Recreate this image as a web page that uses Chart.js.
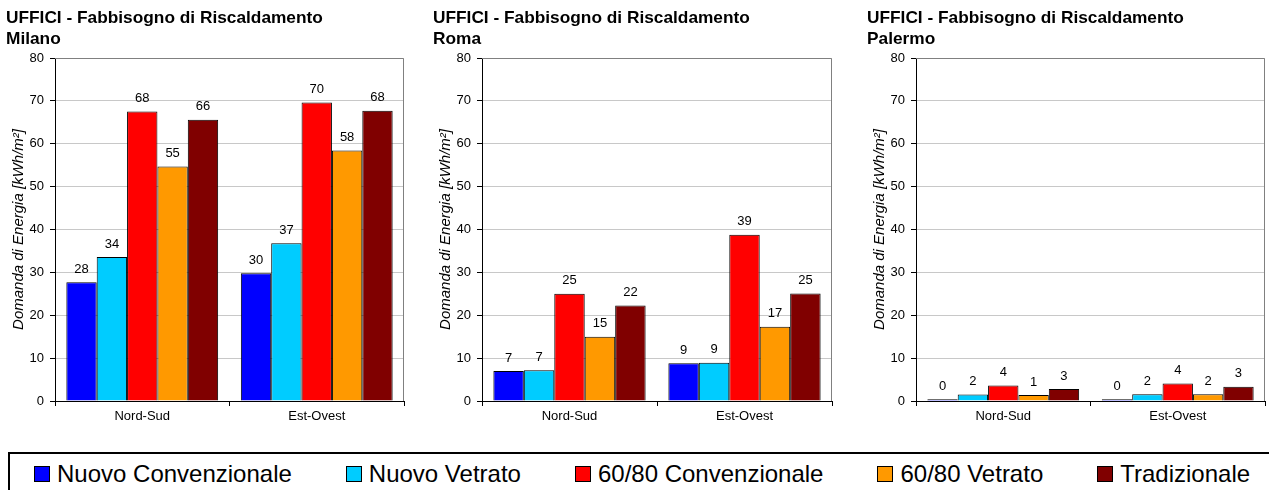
<!DOCTYPE html>
<html>
<head>
<meta charset="utf-8">
<script src="https://cdn.jsdelivr.net/npm/chart.js@4"></script>
<style>
  body { margin:0; background:#fff; width:1269px; height:490px; overflow:hidden; position:relative; font-family:'Liberation Sans', Arial, sans-serif; }
  canvas { position:absolute; top:0; }
  #legend { position:absolute; left:8px; top:452px; width:1300px; height:60px; box-sizing:border-box;
            border-top:2px solid #000; border-left:2px solid #000; padding-left:24px; padding-top:6px;
            display:flex; align-items:flex-start; white-space:nowrap; font-size:24px; line-height:28px; color:#000; }
  .item { display:flex; align-items:center; height:28px; margin-right:54px; }
  .box { width:14px; height:14px; border:1px solid #000; margin-right:7px; }
</style>
</head>
<body>
<canvas id="milano" width="420" height="440" style="left:0px"></canvas>
<canvas id="roma" width="430" height="440" style="left:420px"></canvas>
<canvas id="palermo" width="419" height="440" style="left:850px"></canvas>
<div id="legend"></div>
<script>
// categorie e serie
const categories = ['Nord-Sud', 'Est-Ovest'];
const seriesNames = ['Nuovo Convenzionale', 'Nuovo Vetrato', '60/80 Convenzionale', '60/80 Vetrato', 'Tradizionale'];
const seriesColors = ['#0000ff', '#00ccff', '#ff0000', '#ff9900', '#800000'];
const yTicks = [0, 10, 20, 30, 40, 50, 60, 70, 80];

// valori (kWh/m2), un valore per serie
const milanoNordSud = [27.7, 33.6, 67.5, 54.7, 65.6];
const milanoEstOvest = [29.8, 36.8, 69.6, 58.4, 67.7];
const romaNordSud = [7.0, 7.2, 25.0, 15.0, 22.3];
const romaEstOvest = [8.8, 8.9, 38.8, 17.3, 25.1];
const palermoNordSud = [0.4, 1.5, 3.6, 1.4, 2.8];
const palermoEstOvest = [0.4, 1.6, 4.1, 1.6, 3.3];

const titleMain = 'UFFICI - Fabbisogno di Riscaldamento';
const yTitle = 'Domanda di Energia [kWh/m²]';

Chart.defaults.font.family = "'Liberation Sans', Arial, sans-serif";
Chart.defaults.color = '#000';

// etichette con il valore sopra le barre
const valueLabels = {
  id: 'valueLabels',
  afterDatasetsDraw(chart) {
    const ctx = chart.ctx;
    ctx.save();
    ctx.font = "13px 'Liberation Sans', Arial, sans-serif";
    ctx.fillStyle = '#000';
    ctx.textAlign = 'center';
    ctx.textBaseline = 'middle';
    chart.data.datasets.forEach((ds, i) => {
      chart.getDatasetMeta(i).data.forEach((bar, j) => {
        ctx.fillText(Math.round(ds.data[j]), bar.x, bar.y - 13);
      });
    });
    ctx.restore();
  }
};

// bordo grigio in alto e a destra dell'area del grafico
const plotFrame = {
  id: 'plotFrame',
  beforeDatasetsDraw(chart) {
    const a = chart.chartArea, ctx = chart.ctx;
    ctx.save();
    ctx.strokeStyle = '#808080';
    ctx.lineWidth = 1;
    ctx.beginPath();
    ctx.moveTo(a.left, Math.round(a.top) + 0.5);
    ctx.lineTo(Math.round(a.right) - 0.5, Math.round(a.top) + 0.5);
    ctx.lineTo(Math.round(a.right) - 0.5, a.bottom);
    ctx.stroke();
    ctx.restore();
  }
};

function makeChart(id, city, nordSud, estOvest, padLeft, padRight) {
  const datasets = seriesNames.map((name, i) => ({
    label: name,
    data: [nordSud[i], estOvest[i]],
    backgroundColor: seriesColors[i],
    borderColor: '#000',
    borderWidth: 1,
    categoryPercentage: 0.87,
    barPercentage: 1.0
  }));

  return new Chart(document.getElementById(id), {
    type: 'bar',
    data: { labels: categories, datasets: datasets },
    plugins: [plotFrame, valueLabels],
    options: {
      responsive: false,
      animation: false,
      layout: { padding: { left: padLeft, right: padRight, top: 0, bottom: 14 } },
      plugins: {
        legend: { display: false },
        tooltip: { enabled: false },
        title: {
          display: true,
          text: [titleMain, city],
          align: 'start',
          color: '#000',
          font: { size: 17.3, weight: 'bold', lineHeight: 21 / 17.3 },
          padding: { top: 8, bottom: 8 }
        }
      },
      scales: {
        x: {
          grid: { display: true, drawOnChartArea: false, drawTicks: true, tickLength: 5, tickColor: '#000', offset: true },
          border: { color: '#000' },
          ticks: { color: '#000', font: { size: 13 }, padding: 3 },
          afterFit(s) { s.height = 25; }
        },
        y: {
          min: yTicks[0],
          max: yTicks[yTicks.length - 1],
          afterBuildTicks(s) { s.ticks = yTicks.map(v => ({ value: v })); },
          ticks: { color: '#000', font: { size: 13 }, padding: 6 },
          grid: { color: '#c8c8c8', tickLength: 5, tickColor: '#000' },
          border: { color: '#000' },
          title: { display: true, text: yTitle, color: '#000', font: { size: 15, style: 'italic' }, padding: { top: 4, bottom: 0 } },
          afterFit(s) { s.width = 49; }
        }
      }
    }
  });
}

makeChart('milano', 'Milano', milanoNordSud, milanoEstOvest, 6, 16);
makeChart('roma', 'Roma', romaNordSud, romaEstOvest, 13, 18);
makeChart('palermo', 'Palermo', palermoNordSud, palermoEstOvest, 17, 4);

// legenda comune
const legend = document.getElementById('legend');
seriesNames.forEach((name, i) => {
  const item = document.createElement('div');
  item.className = 'item';
  const box = document.createElement('div');
  box.className = 'box';
  box.style.background = seriesColors[i];
  const txt = document.createElement('span');
  txt.textContent = name;
  item.appendChild(box);
  item.appendChild(txt);
  legend.appendChild(item);
});
</script>
</body>
</html>
